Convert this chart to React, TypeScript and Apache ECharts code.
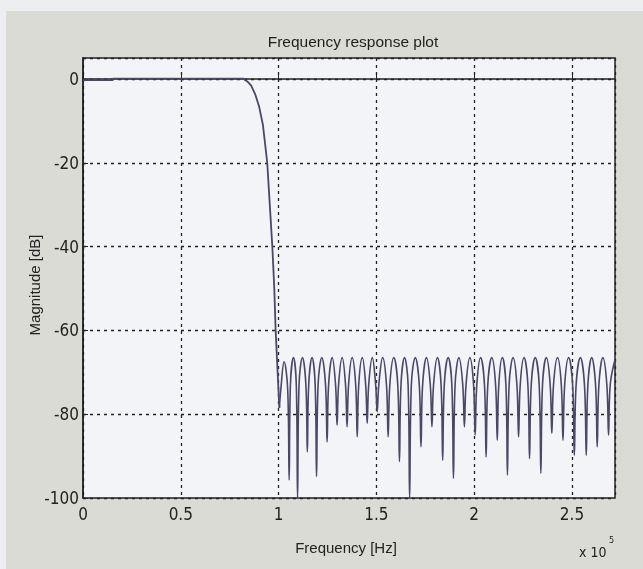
import React, { useEffect, useRef } from "react";
import * as echarts from "echarts";

// Frequency axis is in units of 10^5 Hz
const passFreq = [0, 0.15, 0.155, 0.5, 0.818];
const passMag = [-0.3, -0.3, 0.1, 0.1, 0.1];

const transFreq = [0.84, 0.86, 0.88, 0.9, 0.92, 0.942, 0.955, 0.968, 0.978, 0.985, 0.995, 1.004];
const transMag = [-0.6, -1.6, -3.6, -6.5, -11, -20, -30, -40, -50, -60, -70, -78.5];

const peakFreq = [
  1.028, 1.076, 1.122, 1.171, 1.221, 1.274, 1.325, 1.376, 1.428, 1.479, 1.532,
  1.589, 1.644, 1.699, 1.756, 1.812, 1.867, 1.922, 1.978, 2.033, 2.09, 2.144,
  2.199, 2.255, 2.312, 2.369, 2.426, 2.483, 2.543, 2.601, 2.658,
];
const peakMag = [
  -67.5, -66.5, -66.5, -66.5, -66.5, -66.5, -66.5, -66.5, -66.5, -66.5, -66.5,
  -66.5, -66.5, -66.5, -66.5, -66.5, -66.5, -66.5, -66.5, -66.5, -66.5, -66.5,
  -66.5, -66.5, -66.5, -66.5, -66.5, -66.5, -66.5, -66.5, -66.5,
];

// lobe shoulders (where each lobe's arch turns into the steep flank)
const shoulderFreq = [
  1.0115, 1.0465, 1.0605, 1.0905, 1.1045, 1.1395, 1.154, 1.187, 1.202, 1.24,
  1.2557, 1.2913, 1.3067, 1.3423, 1.3578, 1.3942, 1.4097, 1.4453, 1.4607, 1.4963,
  1.5124, 1.5516, 1.5687, 1.6093, 1.6258, 1.6622, 1.6787, 1.7193, 1.7364, 1.7756,
  1.7923, 1.8308, 1.8473, 1.8858, 1.9024, 1.9416, 1.9583, 1.9968, 2.0134, 2.0526,
  2.0696, 2.1095, 2.1258, 2.1622, 2.1786, 2.2185, 2.2354, 2.2746, 2.2917, 2.3323,
  2.3494, 2.3886, 2.4056, 2.4455, 2.4627, 2.5033, 2.5212, 2.5639, 2.5814, 2.6206,
  2.6377, 2.6783, 2.6955,
];
const shoulderMag = [
  -74, -74, -73, -73, -73, -73, -73, -73, -73, -73,
  -73, -73, -73, -73, -73, -73, -73, -73, -73, -73,
  -73, -73, -73, -73, -73, -73, -73, -73, -73, -73,
  -73, -73, -73, -73, -73, -73, -73, -73, -73, -73,
  -73, -73, -73, -73, -73, -73, -73, -73, -73, -73,
  -73, -73, -73, -73, -73, -73, -73, -73, -73, -73,
  -73, -73, -73,
];

const nullFreq = [
  1.054, 1.097, 1.147, 1.194, 1.248, 1.299, 1.35, 1.402, 1.453, 1.504, 1.56,
  1.618, 1.67, 1.728, 1.784, 1.839, 1.894, 1.95, 2.005, 2.061, 2.118, 2.17,
  2.227, 2.283, 2.341, 2.397, 2.454, 2.512, 2.573, 2.629, 2.687,
];
const nullMag = [
  -95.7, -100, -89, -94.9, -86.6, -82.6, -83, -85.4, -82.2, -79.4, -85.4,
  -91.3, -100, -87.8, -83, -91, -95.3, -83, -85, -90.2, -86.2, -94.5,
  -85.4, -90.6, -94.1, -84.6, -86.2, -89.8, -89.8, -87.8, -85,
];

const edgeFreq = [2.72];
const edgeMag = [-67];

const xTicks = [0, 0.5, 1, 1.5, 2, 2.5];
const yTicks = [-100, -80, -60, -40, -20, 0];

const FONT = "'Liberation Sans', Arial, sans-serif";
const NARROW = "'Liberation Sans Narrow', 'DejaVu Sans Condensed', 'Liberation Sans', sans-serif";
const LINE_COLOR = "#4a4866";

export default function App() {
  const ref = useRef<HTMLDivElement>(null);
  useEffect(() => {
    if (!ref.current) return;
    const chart = echarts.init(ref.current, undefined, { renderer: "svg" });

    const head: number[][] = [];
    passFreq.forEach((f, i) => head.push([f, passMag[i]]));
    transFreq.forEach((f, i) => head.push([f, transMag[i]]));

    const stop: number[][] = [[transFreq[transFreq.length - 1], transMag[transMag.length - 1]]];
    const pts: number[][] = [];
    peakFreq.forEach((f, i) => pts.push([f, peakMag[i]]));
    shoulderFreq.forEach((f, i) => pts.push([f, shoulderMag[i]]));
    nullFreq.forEach((f, i) => pts.push([f, nullMag[i]]));
    edgeFreq.forEach((f, i) => pts.push([f, edgeMag[i]]));
    pts.sort((a, b) => a[0] - b[0]);
    stop.push(...pts);

    chart.setOption({
      animation: false,
      backgroundColor: "transparent",
      graphic: [
        { type: "rect", shape: { x: 0, y: 0, width: 643, height: 569 }, style: { fill: "#eceef0" }, z: -10, silent: true },
        { type: "rect", shape: { x: 6, y: 11, width: 637, height: 558 }, style: { fill: "#dbdbd5" }, z: -9, silent: true },
        { type: "text", x: 579, y: 545, style: { text: "x 10", font: `14px ${NARROW}`, fill: "#222" } },
        { type: "text", x: 609, y: 535, style: { text: "5", font: `9px ${NARROW}`, fill: "#222" } },
      ],
      title: {
        text: "Frequency response plot",
        left: 348,
        textAlign: "center",
        top: 28,
        textStyle: { fontFamily: FONT, fontSize: 15.5, fontWeight: "normal", color: "#1e1e1e" },
      },
      grid: {
        left: 83,
        right: 28,
        top: 58,
        bottom: 71,
        show: true,
        backgroundColor: "#f3f4f8",
        borderColor: "#222",
        borderWidth: 1.5,
      },
      xAxis: {
        type: "value",
        min: 0,
        max: 2.72,
        interval: 0.5,
        name: "Frequency [Hz]",
        nameLocation: "middle",
        nameGap: 42,
        nameMoveOverlap: false,
        nameTextStyle: { fontFamily: FONT, fontSize: 15, color: "#222", padding: [0, 6, 0, 0] },
        axisLine: { show: true, lineStyle: { color: "#222", width: 1.5 } },
        axisTick: { show: true, inside: true, length: 5, lineStyle: { color: "#222" } },
        axisLabel: {
          fontFamily: NARROW,
          fontSize: 17,
          color: "#222",
          margin: 7,
          showMaxLabel: false,
          formatter: (v: number) => (xTicks.includes(v) ? String(v) : ""),
        },
        splitLine: { show: true, lineStyle: { color: "#222", width: 1.3, type: [3, 4] } },
      },
      yAxis: {
        type: "value",
        min: -100,
        max: 5,
        interval: 20,
        name: "Magnitude [dB]",
        nameLocation: "middle",
        nameGap: 41,
        nameMoveOverlap: false,
        nameRotate: 90,
        nameTextStyle: { fontFamily: FONT, fontSize: 15, color: "#222", padding: [0, 14, 0, 0] },
        axisLine: { show: true, lineStyle: { color: "#222", width: 1.5 } },
        axisTick: { show: true, inside: true, length: 5, lineStyle: { color: "#222" } },
        axisLabel: {
          fontFamily: NARROW,
          fontSize: 17,
          color: "#222",
          margin: 4,
          showMaxLabel: false,
          formatter: (v: number) => (yTicks.includes(v) ? String(v) : ""),
        },
        splitLine: { show: true, lineStyle: { color: "#222", width: 1.3, type: [3, 4] } },
      },
      series: [
        {
          type: "line",
          data: head,
          showSymbol: false,
          lineStyle: { color: LINE_COLOR, width: 1.8 },
        },
        {
          type: "line",
          data: stop,
          showSymbol: false,
          smooth: 0.4,
          lineStyle: { color: LINE_COLOR, width: 1.6 },
        },
      ],
    });
    return () => chart.dispose();
  }, []);
  return <div ref={ref} style={{ position: "fixed", left: 0, top: 0, width: 643, height: 569 }} />;
}
